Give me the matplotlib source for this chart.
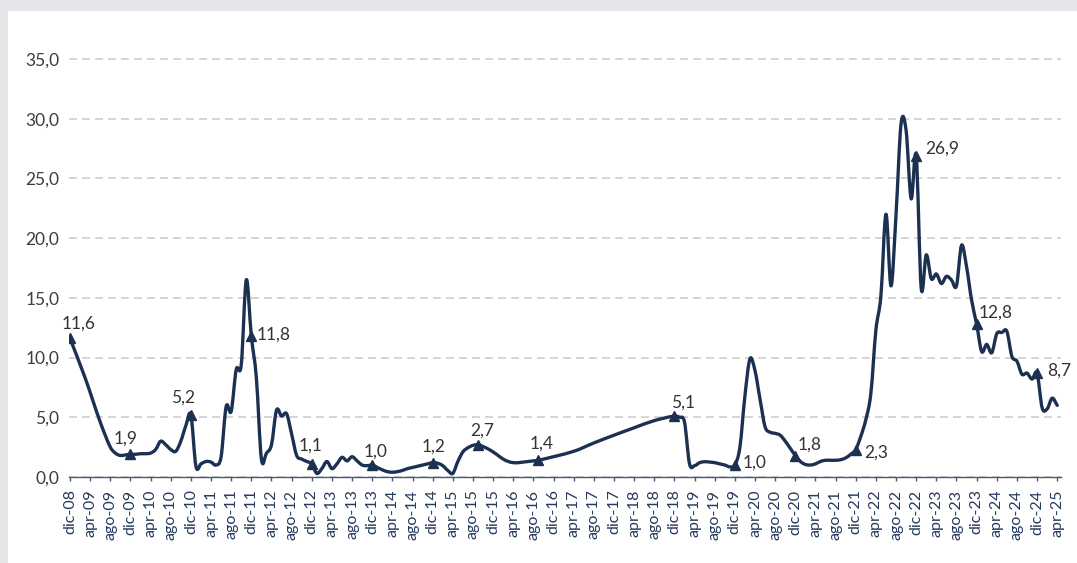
"""Monthly series 2008-2025 drawn as a smoothed line with annual markers."""

import matplotlib

matplotlib.use("Agg")
import matplotlib.pyplot as plt
import numpy as np
from matplotlib.patches import PathPatch, Rectangle
from matplotlib.path import Path

DATES = [
    "2008-12",
    "2009-03", "2009-06", "2009-08", "2009-09", "2009-10", "2009-11", "2009-12",
    "2010-01", "2010-02", "2010-03", "2010-04", "2010-05", "2010-06",
    "2010-07", "2010-08", "2010-09", "2010-10", "2010-11", "2010-12",
    "2011-01", "2011-02", "2011-03", "2011-04", "2011-05", "2011-06",
    "2011-07", "2011-08", "2011-09", "2011-10", "2011-11", "2011-12",
    "2012-01", "2012-02", "2012-03", "2012-04", "2012-05", "2012-06",
    "2012-07", "2012-08", "2012-09", "2012-10", "2012-11", "2012-12",
    "2013-01", "2013-02", "2013-03", "2013-04", "2013-05", "2013-06",
    "2013-07", "2013-08", "2013-09", "2013-10", "2013-11", "2013-12",
    "2014-01", "2014-02", "2014-03", "2014-04", "2014-05", "2014-06",
    "2014-07", "2014-08", "2014-09", "2014-10", "2014-11", "2014-12",
    "2015-01", "2015-02", "2015-03", "2015-04", "2015-05", "2015-06",
    "2015-07", "2015-08", "2015-09", "2015-10", "2015-11", "2015-12",
    "2016-01", "2016-02", "2016-03", "2016-04", "2016-05", "2016-06",
    "2016-07", "2016-08", "2016-09",
    "2017-04", "2017-08", "2017-12", "2018-04", "2018-08", "2018-12",
    "2019-01", "2019-02", "2019-03", "2019-04", "2019-05", "2019-06",
    "2019-07", "2019-08", "2019-09", "2019-10", "2019-11", "2019-12",
    "2020-01", "2020-02", "2020-03", "2020-04", "2020-05", "2020-06",
    "2020-07", "2020-08", "2020-09", "2020-10", "2020-11", "2020-12",
    "2021-01", "2021-02", "2021-03", "2021-04", "2021-05", "2021-06",
    "2021-07", "2021-08", "2021-09", "2021-10", "2021-11", "2021-12",
    "2022-01", "2022-02", "2022-03", "2022-04", "2022-05", "2022-06",
    "2022-07", "2022-08", "2022-09", "2022-10", "2022-11", "2022-12",
    "2023-01", "2023-02", "2023-03", "2023-04", "2023-05", "2023-06",
    "2023-07", "2023-08", "2023-09", "2023-10", "2023-11", "2023-12",
    "2024-01", "2024-02", "2024-03", "2024-04", "2024-05", "2024-06",
    "2024-07", "2024-08", "2024-09", "2024-10", "2024-11", "2024-12",
    "2025-01", "2025-02", "2025-03", "2025-04",
]

VALUES = [
    11.6,
    8.3, 4.6, 2.5, 2.0, 1.8, 1.85, 1.9,
    1.9, 1.95, 1.95, 2.0, 2.3, 3.0,
    2.7, 2.3, 2.15, 3.0, 4.3, 5.2,
    0.9, 1.1, 1.3, 1.25, 1.0, 1.7,
    5.9, 5.5, 9.0, 9.4, 16.5, 11.8,
    8.3, 1.5, 2.0, 2.7, 5.6, 5.1,
    5.3, 3.6, 1.8, 1.5, 1.3, 1.1,
    0.3, 0.7, 1.3, 0.7, 1.1, 1.65,
    1.35, 1.7, 1.35, 1.0, 0.95, 1.0,
    0.8, 0.6, 0.45, 0.4, 0.45, 0.55,
    0.7, 0.8, 0.9, 1.0, 1.1, 1.2,
    1.15, 0.95, 0.55, 0.3, 1.3, 2.1,
    2.45, 2.65, 2.7, 2.55, 2.35, 2.1,
    1.8, 1.5, 1.3, 1.2, 1.2, 1.25,
    1.3, 1.35, 1.4,
    2.15, 2.85, 3.5, 4.12, 4.72, 5.1,
    5.0, 4.6, 1.1, 0.95, 1.2, 1.28,
    1.25, 1.2, 1.1, 1.0, 0.85, 1.0,
    2.5, 6.8, 9.9, 8.9, 6.5, 4.2,
    3.75, 3.65, 3.5, 3.0, 2.4, 1.8,
    1.3, 1.05, 1.0, 1.1, 1.3, 1.4,
    1.4, 1.4, 1.45, 1.6, 1.9, 2.3,
    3.4, 4.8, 7.0, 12.3, 15.2, 22.0,
    16.0, 22.0, 29.6, 29.0, 23.3, 26.9,
    15.8, 18.6, 16.6, 17.0, 16.2, 16.8,
    16.5, 16.0, 19.4, 17.6, 14.8, 12.8,
    10.5, 11.1, 10.4, 12.0, 12.1, 12.2,
    10.1, 9.7, 8.6, 8.7, 8.2, 8.7,
    5.8, 5.7, 6.6, 6.0,
]

MARKED = [
    "2008-12", "2009-12", "2010-12", "2011-12", "2012-12", "2013-12",
    "2014-12", "2015-09", "2016-09", "2018-12", "2019-12", "2020-12",
    "2021-12", "2022-12", "2023-12", "2024-12",
]

TICK_NAMES = {12: "dic", 4: "apr", 8: "ago"}
Y_TICKS = [0, 5, 10, 15, 20, 25, 30, 35]

# label offsets from the marker, in points
LABEL_OFFSETS = {
    "2008-12": (6, 10.5), "2009-12": (-3.5, 11.5), "2010-12": (-6, 12.5),
    "2011-12": (16, 1), "2012-12": (-1, 13), "2013-12": (2.5, 10),
    "2014-12": (1, 11.5), "2015-09": (3, 10), "2016-09": (2, 12),
    "2018-12": (6, 10), "2019-12": (14, 2), "2020-12": (10.5, 7.5),
    "2021-12": (15, -2), "2022-12": (18.5, 5), "2023-12": (14, 8),
    "2024-12": (16, 1.5),
}

LINE_COLOR = "#1c3152"
TEXT_COLOR = "#333333"
TICK_COLOR = "#253a5e"
GRID_COLOR = "#d2d2d2"
BACK_COLOR = "#e4e4e9"


def month_index(date: str) -> int:
    year, month = (int(part) for part in date.split("-"))
    return (year - 2008) * 12 + month - 12


def smooth_path(x: np.ndarray, y: np.ndarray) -> Path:
    """Cubic Bezier path through the points (Catmull-Rom style tangents)."""
    n = len(x)
    slopes = np.empty(n)
    slopes[0] = (y[1] - y[0]) / (x[1] - x[0])
    slopes[-1] = (y[-1] - y[-2]) / (x[-1] - x[-2])
    slopes[1:-1] = (y[2:] - y[:-2]) / (x[2:] - x[:-2])
    verts = [(x[0], y[0])]
    codes = [Path.MOVETO]
    for i in range(n - 1):
        h = x[i + 1] - x[i]
        verts += [
            (x[i] + h / 3, y[i] + slopes[i] * h / 3),
            (x[i + 1] - h / 3, y[i + 1] - slopes[i + 1] * h / 3),
            (x[i + 1], y[i + 1]),
        ]
        codes += [Path.CURVE4] * 3
    return Path(verts, codes)


def main() -> None:
    plt.rcParams["font.family"] = ["Lato", "DejaVu Sans"]

    x = np.array([month_index(d) for d in DATES], dtype=float)
    y = np.array(VALUES, dtype=float)

    fig = plt.figure(figsize=(10.77, 5.63), dpi=100, facecolor=BACK_COLOR)
    # white card behind the chart, leaving a grey strip on top and left
    card = Rectangle((8 / 1077, 0), 1, 552 / 563, transform=fig.transFigure,
                     facecolor="white", edgecolor="none", zorder=-10)
    fig.add_artist(card)
    ax = fig.add_axes([69 / 1077, 86 / 563, 992 / 1077, 424 / 563])
    ax.set_facecolor("none")

    ax.add_patch(PathPatch(smooth_path(x, y), facecolor="none",
                           edgecolor=LINE_COLOR, lw=2.4, capstyle="round",
                           joinstyle="round", zorder=3))

    lookup = dict(zip(DATES, VALUES))
    mx = [month_index(d) for d in MARKED]
    my = [lookup[d] for d in MARKED]
    ax.plot(mx, my, linestyle="none", marker="^", markersize=7.5,
            color=LINE_COLOR, zorder=4)
    for date, xm, ym in zip(MARKED, mx, my):
        ax.annotate(f"{ym:.1f}".replace(".", ","), (xm, ym),
                    xytext=LABEL_OFFSETS[date], textcoords="offset points",
                    ha="center", va="center", fontsize=12.5,
                    color=TEXT_COLOR, zorder=5)

    ax.set_xlim(-0.2, 196.75)
    ax.set_ylim(0, 35.5)

    tick_pos = np.arange(0, 197, 4)
    tick_labels = []
    for pos in tick_pos:
        year = 2008 + (pos + 11) // 12
        month = (pos + 11) % 12 + 1
        tick_labels.append(f"{TICK_NAMES[month]}-{year % 100:02d}")
    ax.set_xticks(tick_pos)
    ax.set_xticklabels(tick_labels, rotation=90, fontsize=11.5, color=TICK_COLOR)
    ax.tick_params(axis="x", direction="out", length=3, width=1,
                   color="#4b5a74", pad=6)

    ax.set_yticks(Y_TICKS)
    ax.set_yticklabels([f"{v:.1f}".replace(".", ",") for v in Y_TICKS],
                       fontsize=12.5, color="#3d3d3d")
    ax.tick_params(axis="y", length=0, pad=7)

    for spine in ("top", "right", "left"):
        ax.spines[spine].set_visible(False)
    ax.spines["bottom"].set_color("#4b5a74")
    ax.spines["bottom"].set_linewidth(1.0)

    ax.yaxis.grid(True, color=GRID_COLOR, linestyle=(0, (4.4, 2.8)), lw=1.3)
    ax.set_axisbelow(True)

    fig.savefig("out.png", dpi=100, facecolor=BACK_COLOR)


if __name__ == "__main__":
    main()
